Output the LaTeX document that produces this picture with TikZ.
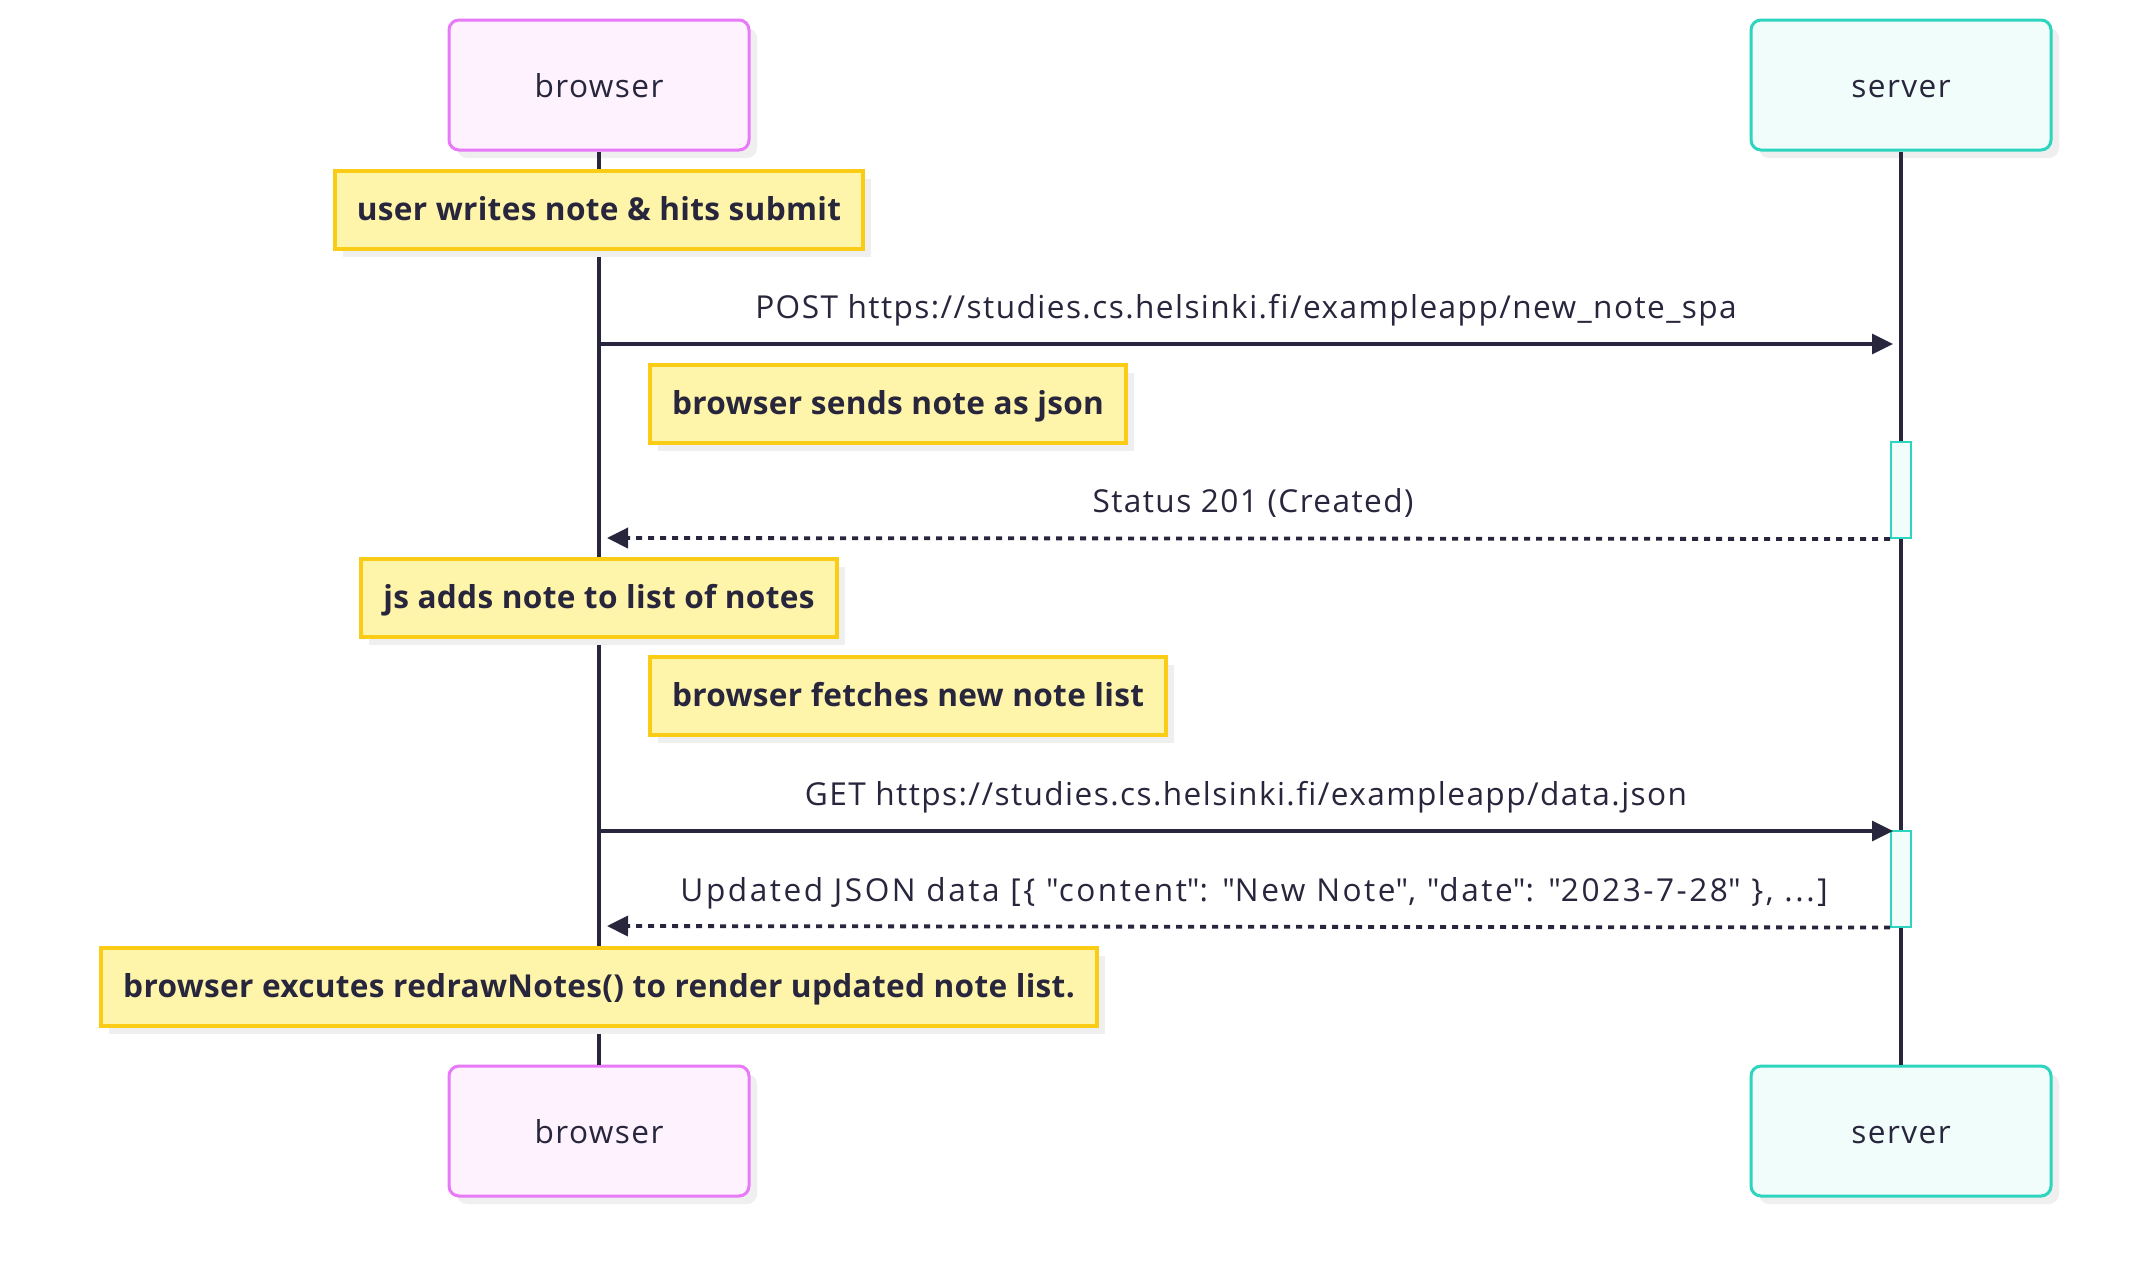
\documentclass[tikz,border=0pt]{standalone}
\usepackage{fontspec}
\setmainfont{Open Sans}[Ligatures={NoCommon}]
\newfontfamily\regfont{Open Sans}[Ligatures={NoCommon},LetterSpace=4.5]
\newfontfamily\widefont{Open Sans}[Ligatures={NoCommon},LetterSpace=8]
\newfontfamily\notefont{Open Sans}[Ligatures={NoCommon},LetterSpace=1.0]
\usetikzlibrary{arrows.meta,shadows}
\definecolor{ink}{HTML}{28263C}
\definecolor{brwline}{HTML}{E879F9}
\definecolor{brwfill}{HTML}{FDF2FE}
\definecolor{srvline}{HTML}{2DD4BF}
\definecolor{srvfill}{HTML}{F0FDFA}
\definecolor{notefill}{HTML}{FEF4AA}
\definecolor{noteline}{HTML}{FACC15}
\definecolor{shadowgray}{HTML}{EFEFEF}
\newcommand{\dq}{\textquotedbl}
\tikzset{
  actorbox/.style={rounded corners=5pt, line width=1.5pt, minimum width=150pt, minimum height=65pt,
    inner sep=0pt, font=\regfont\fontsize{15.8pt}{19pt}\selectfont, text=ink, text height=14pt, text depth=2pt,
    drop shadow={shadow xshift=4pt, shadow yshift=-4pt, fill=shadowgray, opacity=1}},
  brw/.style={actorbox, draw=brwline, fill=brwfill},
  srv/.style={actorbox, draw=srvline, fill=srvfill},
  notebox/.style={draw=noteline, fill=notefill, line width=2pt, minimum height=39pt, inner xsep=11pt, inner ysep=0pt,
    font=\notefont\bfseries\fontsize{15.8pt}{19pt}\selectfont, text=ink, text height=13pt, text depth=2.5pt,
    drop shadow={shadow xshift=4pt, shadow yshift=-4pt, fill=shadowgray, opacity=1}},
  lifeline/.style={draw=ink, line width=1.8pt},
  msgsolid/.style={draw=ink, line width=1.6pt, -{Triangle[length=10.5pt,width=10pt]}},
  msgdot/.style={draw=ink, line width=1.9pt, dash pattern=on 3pt off 3pt, -{Triangle[length=10.5pt,width=10pt]}},
  msglabel/.style={anchor=base, font=\regfont\fontsize{15.8pt}{19pt}\selectfont, text=ink, inner sep=0pt},
  actbox/.style={draw=srvline, fill=srvfill, line width=1pt, minimum width=10pt, inner sep=0pt},
}
\begin{document}
\begin{tikzpicture}[x=0.5pt,y=-0.5pt]
\useasboundingbox[fill=white] (0,0) rectangle (2151,1276);
% actors
\node[brw] (bt) at (599,85) {browser};
\node[srv] (st) at (1901,85) {server};
\node[brw] (bb) at (599,1131) {browser};
\node[srv] (sb) at (1901,1131) {server};
% lifelines
\draw[lifeline] (bt.south) -- (bb.north);
\draw[lifeline] (st.south) -- (sb.north);
% activations
\node[actbox, minimum height=48pt] (a1) at (1901,490) {};
\node[actbox, minimum height=48pt] (a2) at (1901,878.5) {};
% notes
\node[notebox] (n1) at (599,209.5) {user writes note \& hits submit};
\node[notebox, anchor=west] (n2) at (648,403.5) {browser sends note as json};
\node[notebox] (n3) at (599,597.5) {js adds note to list of notes};
\node[notebox, anchor=west] (n4) at (648,696) {browser fetches new note list};
\node[notebox] (n5) at (599,987) {browser excutes redrawNotes() to render updated note list.};
% message endpoints
\coordinate (m1a) at (599,344);
\coordinate (m1b) at (1893,344);
\coordinate (m2a) at (a1.south west);
\coordinate (m2b) at (607,538);
\coordinate (m3a) at (599,831);
\coordinate (m3b) at (1893,831);
\coordinate (m4a) at (a2.south west);
\coordinate (m4b) at (607,926);
\draw[msgsolid] (m1a) -- (m1b);
\draw[msgdot] (m2a) -- (m2b);
\draw[msgsolid] (m3a) -- (m3b);
\draw[msgdot] (m4a) -- (m4b);
% labels
\node[msglabel] (l1) at (1246,318) {POST https://studies.cs.helsinki.fi/exampleapp/new\_note\_spa};
\node[msglabel] (l2) at (1253,512) {Status 201 (Created)};
\node[msglabel] (l3) at (1246,805) {GET https://studies.cs.helsinki.fi/exampleapp/data.json};
\node[msglabel, font=\widefont\fontsize{15.8pt}{19pt}\selectfont] (l4) at (1254,901) {Updated JSON data [\{ \dq content\dq: \dq New Note\dq, \dq date\dq: \dq 2023-7-28\dq\ \}, ...]};
\end{tikzpicture}
\end{document}
